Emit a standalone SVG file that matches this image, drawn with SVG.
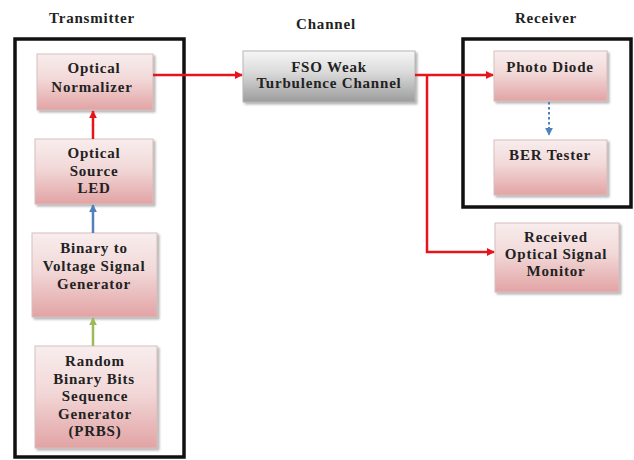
<svg xmlns="http://www.w3.org/2000/svg" width="634" height="460" viewBox="0 0 634 460">
<defs>
<linearGradient id="pink" x1="0" y1="0" x2="0" y2="1">
<stop offset="0" stop-color="#f8eded"/>
<stop offset="0.45" stop-color="#f2d8d8"/>
<stop offset="1" stop-color="#e2a3a4"/>
</linearGradient>
<linearGradient id="gray" x1="0" y1="0" x2="0" y2="1">
<stop offset="0" stop-color="#f6f6f6"/>
<stop offset="0.4" stop-color="#dcdcdc"/>
<stop offset="1" stop-color="#9c9c9c"/>
</linearGradient>
<filter id="sh" x="-10%" y="-10%" width="130%" height="130%">
<feDropShadow dx="2" dy="2" stdDeviation="1.2" flood-color="#777" flood-opacity="0.55"/>
</filter>
<marker id="ar" viewBox="0 0 10 10" refX="9" refY="5" markerWidth="8" markerHeight="8" markerUnits="userSpaceOnUse" orient="auto">
<path d="M0,0 L10,5 L0,10 z" fill="#e8141c"/>
</marker>
<marker id="ab" viewBox="0 0 10 10" refX="9" refY="5" markerWidth="8" markerHeight="8" markerUnits="userSpaceOnUse" orient="auto">
<path d="M0,0 L10,5 L0,10 z" fill="#4f81bd"/>
</marker>
<marker id="ag" viewBox="0 0 10 10" refX="9" refY="5" markerWidth="8" markerHeight="8" markerUnits="userSpaceOnUse" orient="auto">
<path d="M0,0 L10,5 L0,10 z" fill="#9bbb59"/>
</marker>
</defs>
<style>
text{font-family:'Liberation Serif','DejaVu Serif',serif;font-weight:bold;font-size:15px;fill:#222222;text-anchor:middle;letter-spacing:0.8px}
.box{fill:url(#pink);stroke:#d9bdbd;stroke-width:1;filter:url(#sh)}
.gbox{fill:url(#gray);stroke:#b5b5b5;stroke-width:1;filter:url(#sh)}
.frame{fill:none;stroke:#111;stroke-width:3.5}
.red{fill:none;stroke:#e8141c;stroke-width:2.5}
</style>
<rect width="634" height="460" fill="#ffffff"/>

<g id="labels">
<text x="92" y="23">Transmitter</text>
<text x="326" y="29">Channel</text>
<text x="546" y="23">Receiver</text>
</g>

<g id="frames">
<rect class="frame" x="15" y="39" width="169" height="418"/>
<rect class="frame" x="463" y="39" width="168" height="168"/>
</g>

<g id="optical-normalizer">
<rect class="box" x="37" y="54" width="116" height="56"/>
<text x="94" y="73">Optical</text>
<text x="92" y="92">Normalizer</text>
</g>

<g id="optical-source">
<rect class="box" x="35" y="139" width="118" height="65"/>
<text x="94" y="158">Optical</text>
<text x="94" y="176">Source</text>
<text x="94" y="193">LED</text>
</g>

<g id="binary-voltage">
<rect class="box" x="32" y="233" width="125" height="84"/>
<text x="94" y="253">Binary to</text>
<text x="94" y="271">Voltage Signal</text>
<text x="94" y="289">Generator</text>
</g>

<g id="prbs">
<rect class="box" x="35" y="346" width="122" height="102"/>
<text x="95" y="366">Random</text>
<text x="94" y="384">Binary Bits</text>
<text x="95" y="401">Sequence</text>
<text x="95" y="419">Generator</text>
<text x="95" y="436">(PRBS)</text>
</g>

<g id="fso-channel">
<rect class="gbox" x="243" y="51" width="172" height="51"/>
<text x="329" y="72">FSO Weak</text>
<text x="329" y="88">Turbulence Channel</text>
</g>

<g id="photo-diode">
<rect class="box" x="494" y="51" width="113" height="50"/>
<text x="550" y="72">Photo Diode</text>
</g>

<g id="ber-tester">
<rect class="box" x="494" y="140" width="113" height="55"/>
<text x="550" y="160">BER Tester</text>
</g>

<g id="monitor">
<rect class="box" x="495" y="223" width="124" height="69"/>
<text x="556" y="242">Received</text>
<text x="556" y="259">Optical Signal</text>
<text x="556" y="276">Monitor</text>
</g>

<g id="connectors">
<line x1="93" y1="346" x2="93" y2="318" stroke="#9bbb59" stroke-width="2.5" marker-end="url(#ag)"/>
<line x1="93" y1="233" x2="93" y2="205" stroke="#4f81bd" stroke-width="2.5" marker-end="url(#ab)"/>
<line class="red" x1="93" y1="139" x2="93" y2="111" marker-end="url(#ar)"/>
<line class="red" x1="153" y1="75" x2="242" y2="75" marker-end="url(#ar)"/>
<line class="red" x1="415" y1="75" x2="493" y2="75" marker-end="url(#ar)"/>
<polyline class="red" points="427,75 427,252 494,252" marker-end="url(#ar)"/>
<line x1="549" y1="102" x2="549" y2="135" stroke="#4f81bd" stroke-width="2" stroke-dasharray="2.5,2.5" marker-end="url(#ab)"/>
</g>
</svg>
